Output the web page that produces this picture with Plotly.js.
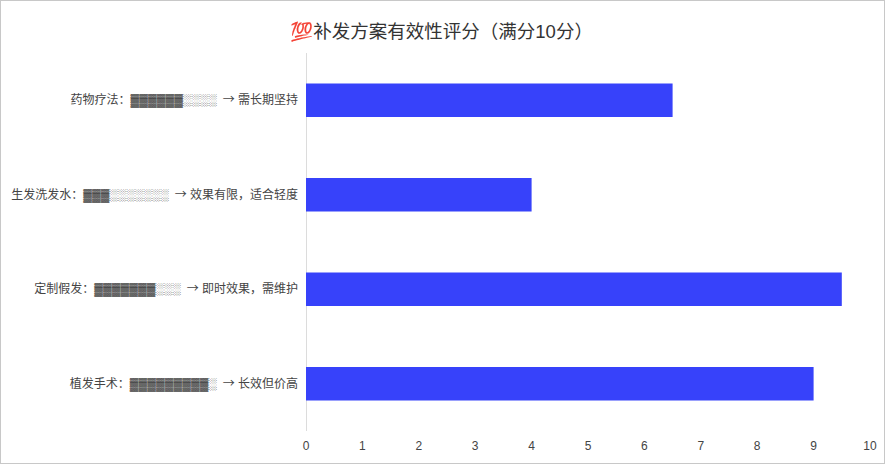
<!DOCTYPE html>
<html>
<head>
<meta charset="utf-8">
<script src="https://cdn.plot.ly/plotly-3.0.1.min.js"></script>
<style>
html,body{margin:0;padding:0;background:#fff;overflow:hidden}
#c{position:absolute;left:0;top:0;width:885px;height:464px}
#f{position:absolute;left:0;top:0;width:883px;height:462px;border:1px solid #c8c8c8;pointer-events:none}
</style>
</head>
<body>
<div id="c"></div>
<div id="f"></div>
<script>
const chartTitle = "💯补发方案有效性评分（满分10分）";
const arrow = ' \u2009<span style="font-family:\'Noto Sans CJK SC\'">→</span> ';
const categories = [
  "植发手术：▓▓▓▓▓▓▓▓▓░" + arrow + "长效但价高",
  "定制假发：▓▓▓▓▓▓▓░░░" + arrow + "即时效果，需维护",
  "生发洗发水：▓▓▓░░░░░░░" + arrow + "效果有限，适合轻度",
  "药物疗法：▓▓▓▓▓▓░░░░" + arrow + "需长期坚持"
];
const scores = [9, 9.5, 4, 6.5];
const xTicks = [0,1,2,3,4,5,6,7,8,9,10];
const fontFamily = '"Liberation Sans","Noto Sans CJK SC","Noto Color Emoji",sans-serif';

Plotly.newPlot("c", [{
  type: "bar",
  orientation: "h",
  y: categories,
  x: scores,
  width: 0.355,
  marker: {color: "#3742fa"},
  hoverinfo: "skip"
}], {
  width: 885, height: 464,
  margin: {l: 306, r: 15, t: 53, b: 33, pad: 0},
  paper_bgcolor: "rgba(0,0,0,0)",
  plot_bgcolor: "#fff",
  font: {family: fontFamily, size: 12, color: "#444"},
  title: {text: chartTitle, font: {family: fontFamily, size: 18.5, color: "#333"}, x: 0.499, xanchor: "center", y: 0.932, yanchor: "middle"},
  showlegend: false,
  xaxis: {range: [0, 10], tickvals: xTicks, showgrid: false, zeroline: true, zerolinecolor: "#dcdcdc", zerolinewidth: 1, showline: false, ticks: "", ticklen: 0, ticklabelstandoff: 6, tickfont: {size: 12, color: "#444"}},
  yaxis: {type: "category", showgrid: false, zeroline: false, showline: false, ticks: "", automargin: false, ticklabelstandoff: 7, tickfont: {size: 12, color: "#444"}}
}, {displayModeBar: false, staticPlot: true});
</script>
</body>
</html>
